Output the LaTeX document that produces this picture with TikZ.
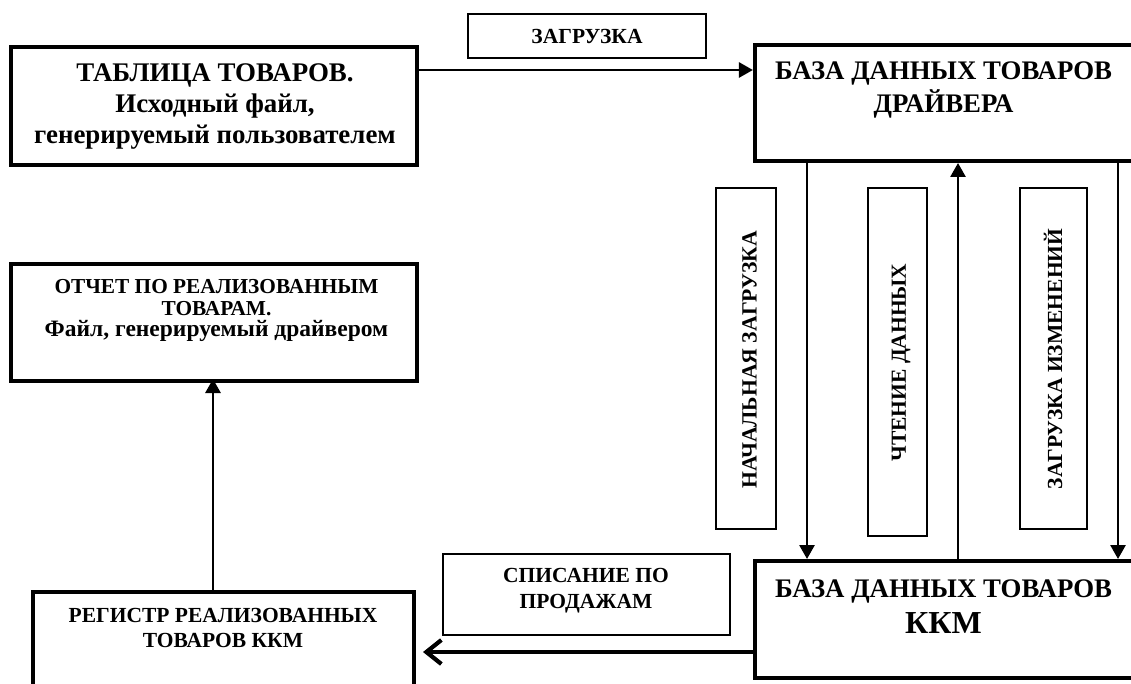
\documentclass[tikz,border=0pt]{standalone}
\usepackage{fontspec}
\setmainfont{Liberation Serif}
\usetikzlibrary{arrows.meta}
\tikzset{
  mainbox/.style={draw, line width=4pt, inner sep=0pt},
  lblbox/.style={draw, line width=2pt, inner sep=0pt},
  txt/.style={align=center, inner sep=0pt, font=\bfseries},
  conn/.style={line width=2.8pt, -{Triangle[length=14pt,width=15pt]}},
  thickconn/.style={line width=4.2pt, -{Straight Barb[length=15pt,width=24pt]}},
}
\begin{document}
\begin{tikzpicture}[x=1pt,y=-1pt]
\useasboundingbox (0,0) rectangle (1131,684);
\clip (0,0) rectangle (1131,684);
% boxes
\node[mainbox, minimum width=406pt, minimum height=118pt] (tab) at (214,106) {};
\node[mainbox, minimum width=405pt, minimum height=116pt] (drv) at (957.4,103) {};
\node[mainbox, minimum width=405pt, minimum height=117pt] (kkm) at (957.4,619.5) {};
\node[mainbox, minimum width=406pt, minimum height=117pt] (otch) at (214,322.5) {};
\node[mainbox, minimum width=381pt, minimum height=128pt] (reg) at (223.5,655.9) {};
\node[lblbox, minimum width=238pt, minimum height=44pt] (zag) at (587,36) {};
\node[lblbox, minimum width=287pt, minimum height=81pt] (spis) at (586.5,594.5) {};
\node[lblbox, minimum width=60pt, minimum height=341pt] (v1) at (746,358.5) {};
\node[lblbox, minimum width=59pt, minimum height=348pt] (v2) at (897.5,362) {};
\node[lblbox, minimum width=67pt, minimum height=341pt] (v3) at (1053.5,358.5) {};
% texts
\node[txt, font=\bfseries\fontsize{26.9}{31}\selectfont] (tabT) at (215,106.5)
  {ТАБЛИЦА ТОВАРОВ.\\Исходный файл,\\генерируемый пользователем};
\node[txt, font=\bfseries\fontsize{21.5}{24}\selectfont] (zagT) at (587,36) {ЗАГРУЗКА};
\node[txt, font=\bfseries\fontsize{26.8}{33}\selectfont] (drvT) at (943.5,90)
  {БАЗА ДАННЫХ ТОВАРОВ\\ДРАЙВЕРА};
\node[txt, font=\bfseries\fontsize{26.8}{36}\selectfont] (kkmT) at (943.5,606.5)
  {БАЗА ДАННЫХ ТОВАРОВ\\{\fontsize{32}{36}\selectfont ККМ}};
\node[txt, font=\bfseries\fontsize{21.3}{21.5}\selectfont] (otchT) at (216.5,310.5)
  {ОТЧЕТ ПО РЕАЛИЗОВАННЫМ\\ТОВАРАМ.\\{\fontsize{23.5}{24}\selectfont Файл, генерируемый драйвером}};
\node[txt, font=\bfseries\fontsize{21.5}{25}\selectfont] (regT) at (223,627.5)
  {РЕГИСТР РЕАЛИЗОВАННЫХ\\ТОВАРОВ ККМ};
\node[txt, font=\bfseries\fontsize{21.5}{26}\selectfont] (spisT) at (586,590.5)
  {СПИСАНИЕ ПО\\ПРОДАЖАМ};
\node[txt, rotate=90, font=\bfseries\fontsize{21.7}{25}\selectfont] (v1T) at (749.5,359.5) {НАЧАЛЬНАЯ ЗАГРУЗКА};
\node[txt, rotate=90, font=\bfseries\fontsize{21.5}{25}\selectfont] (v2T) at (901,362.5) {ЧТЕНИЕ ДАННЫХ};
\node[txt, rotate=90, font=\bfseries\fontsize{21.5}{25}\selectfont] (v3T) at (1053,359) {ЗАГРУЗКА ИЗМЕНЕНИЙ};
% helper coordinates
\coordinate (yA) at (0,70);
\coordinate (xA) at (807,0);
\coordinate (xB) at (958,0);
\coordinate (xC) at (1118,0);
\coordinate (yB) at (0,652);
\coordinate (xD) at (213,0);
% connectors
\draw[conn] (tab.east |- yA) -- (drv.west |- yA);
\draw[conn] (drv.south -| xA) -- (kkm.north -| xA);
\draw[conn] (kkm.north -| xB) -- (drv.south -| xB);
\draw[conn] (drv.south -| xC) -- (kkm.north -| xC);
\draw[thickconn, shorten >=7pt] (kkm.west |- yB) -- (reg.east |- yB);
\draw[conn, shorten >=-4pt] (reg.north -| xD) -- (otch.south -| xD);
\end{tikzpicture}
\end{document}
